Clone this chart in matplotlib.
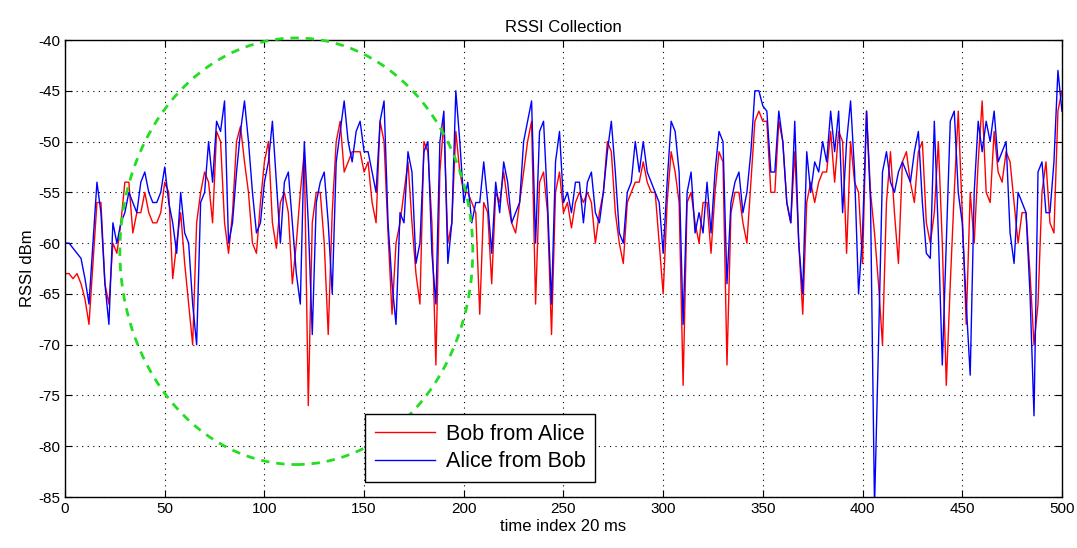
import numpy as np
import matplotlib
matplotlib.use("Agg")
import matplotlib.pyplot as plt
from matplotlib.patches import Ellipse

plt.rcParams["font.family"] = ["Liberation Sans", "DejaVu Sans"]
plt.rcParams["axes.unicode_minus"] = False

# muestras cada 2 índices (0..500)
t_index = np.arange(0, 501, 2)

bob_from_alice = [
    -63, -63, -63.5, -63, -64, -65.5, -68, -62, -56, -56, -64, -66, -60, -61, -58, -54, -54, -59, -57, -57, -55, -57, -58, -58, -57, -54,
    -55, -63.5, -60, -57, -62, -66, -70, -58, -55, -53, -54, -58, -49, -50, -58, -61, -57, -50, -48.5, -52, -55, -60, -61, -56, -52,
    -50, -58, -60.5, -56, -55, -57, -64, -60, -55, -51, -76, -58, -55, -55, -60, -69, -57, -50, -48, -53, -52, -51, -51, -51, -53,
    -52, -56, -58, -48, -50, -59, -67, -60, -58, -55, -52, -58, -63, -66, -50, -51, -58, -72, -53, -48, -60, -58, -49, -53, -55,
    -55, -56, -57, -67, -56, -57, -64, -55, -56, -53, -56, -58, -59, -56, -53, -50, -48, -66, -54, -53, -57, -69, -55, -53, -57,
    -56, -58.5, -56, -55, -56, -55, -56, -60, -57, -55, -50, -51, -57, -60, -62, -56, -55, -54, -54, -52, -54, -55, -55, -60, -65,
    -56, -51, -53, -56, -74, -56, -55, -58, -60, -56, -56, -61, -55, -51, -52, -72, -57, -55, -55, -58, -60, -54, -48, -47, -48,
    -48, -55, -55, -48, -50, -56, -58, -51, -60, -67, -56, -54, -56, -54, -53, -53, -49, -54, -49, -50, -61, -50, -54, -55, -62,
    -47, -55, -59, -64, -70, -56, -51, -57, -62, -52, -51, -54, -56, -51, -50, -58, -60, -57, -50, -60, -74, -64, -55, -47, -57,
    -68, -55, -60, -52, -46, -55, -56, -49, -53, -54, -51, -52, -56, -60, -57, -57, -63, -70, -66, -55, -52, -58, -59, -47, -45,
]

alice_from_bob = [
    -60, -60, -60.5, -61, -61.5, -63.5, -66, -60, -54, -57, -64, -68, -58, -60, -58, -57, -55, -56, -57, -54, -53, -55, -56, -56, -55, -52.5,
    -56, -58, -61, -55, -59, -60, -66, -70, -56, -55, -50, -54, -48, -49, -46, -60, -58, -53, -49, -46, -50, -55, -59, -58, -54,
    -52, -48, -54, -60, -54, -53, -58, -63, -66, -50, -58, -69, -56, -54, -53, -58, -65, -52, -49, -46, -50, -52, -49, -48, -51,
    -51, -53, -55, -48, -46, -58, -64, -68, -57, -58, -51, -53, -62, -60, -51, -50, -61, -66, -50, -47, -62, -58, -45, -50, -56,
    -54, -58, -56, -56, -52, -56, -61, -54, -57, -52, -54, -58, -57, -56, -50, -48, -46, -60, -49, -48, -56, -66, -52, -49, -56,
    -55, -57, -54, -54, -58, -54, -53, -57, -58, -55, -51, -48, -53, -59, -60, -55, -54, -50, -53, -50, -53, -54, -55, -56, -61,
    -54, -48, -49, -53, -68, -55, -53, -59, -57, -59, -54, -59, -53, -49, -50, -64, -56, -54, -53, -57, -55, -51, -45, -45, -46.5,
    -47, -53, -53, -47, -50, -56, -58, -48, -60, -65, -51, -55, -52, -53, -50, -52, -47, -51, -47, -57, -50, -46, -53, -65, -59,
    -47, -56, -86, -70, -53, -51, -54, -55, -53, -52, -53, -54, -51, -49, -56, -61, -61.5, -48, -59, -72, -60, -48, -47, -55, -58,
    -66, -73, -55, -48, -51, -48, -50, -47, -52, -51, -50, -59, -62, -55, -56, -57, -65, -77, -53, -52, -57, -57, -52, -43, -47,
]

labels = ["Bob from Alice", "Alice from Bob"]

fig = plt.figure(figsize=(10.77, 5.48), dpi=100)
ax = fig.add_axes([0.0604, 0.093, 0.9256, 0.834])

ax.plot(t_index, bob_from_alice, color="red", lw=1.0, label=labels[0])
ax.plot(t_index, alice_from_bob, color="blue", lw=1.0, label=labels[1])

# elipse verde de la zona de interés
ax.add_patch(Ellipse((116, -60.8), 177, 42, fill=False, ls=(0, (3, 2.5)),
                     lw=2, color="#22dd22", clip_on=False, zorder=3))

ax.set_xlim(0, 500)
ax.set_ylim(-85, -40)
ax.set_xticks(np.arange(0, 501, 50))
ax.set_yticks(np.arange(-85, -39, 5))
ax.grid(True, color="black", ls=(0, (1, 4)), lw=0.8)
ax.tick_params(direction="in", labelsize=11, top=True, right=True, length=5)
for s in ax.spines.values():
    s.set_linewidth(1.0)

ax.set_title("RSSI Collection", fontsize=12, pad=6)
ax.set_xlabel("time index 20 ms", fontsize=12, labelpad=2)
ax.set_ylabel("RSSI dBm", fontsize=12, labelpad=2)

leg = ax.legend(loc="lower left", bbox_to_anchor=(0.301, 0.033), fontsize=15.5,
                fancybox=False, framealpha=1, edgecolor="black",
                handlelength=2.8, handletextpad=0.5, borderpad=0.45,
                labelspacing=0.3, borderaxespad=0)
leg.get_frame().set_linewidth(1.0)

fig.savefig("out.png", dpi=100)
